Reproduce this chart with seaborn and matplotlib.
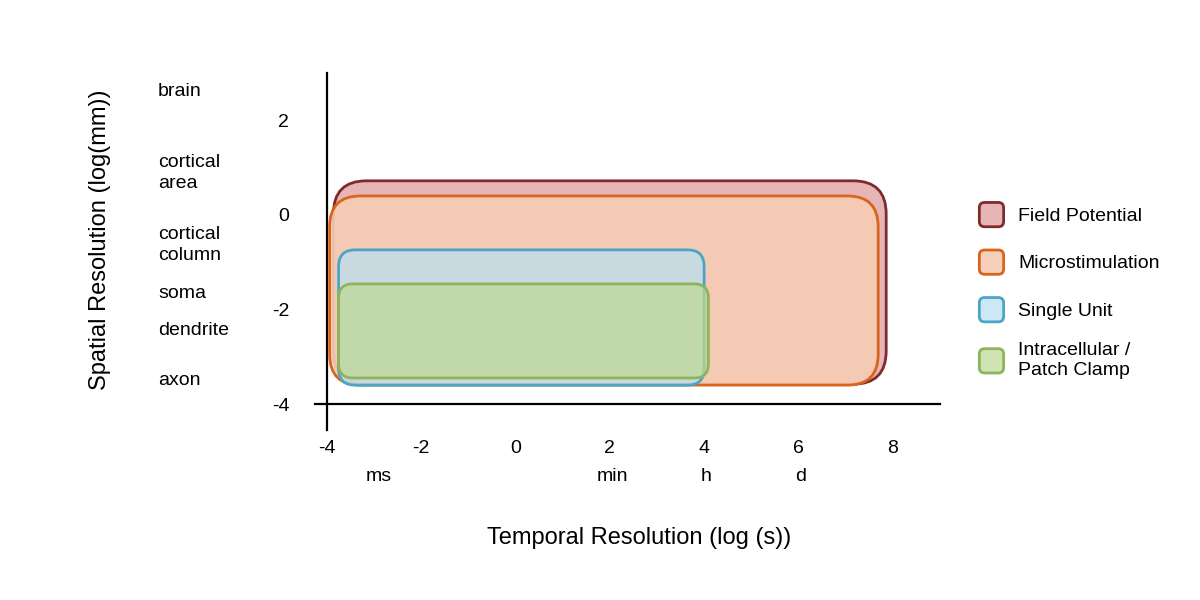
import matplotlib
matplotlib.use("Agg")
import matplotlib.pyplot as plt
import seaborn as sns
from matplotlib.patches import FancyBboxPatch, Patch
from matplotlib.legend_handler import HandlerPatch

# Recording methods: temporal range (log s) and spatial range (log mm)
methods = ["Field Potential", "Microstimulation", "Single Unit", "Intracellular /\nPatch Clamp"]
t_min = [-3.86, -3.94, -3.75, -3.75]
t_max = [7.86, 7.69, 4.0, 4.09]
s_min = [-3.58, -3.6, -3.6, -3.45]
s_max = [0.72, 0.4, -0.74, -1.46]

x_ticks = [-4, -2, 0, 2, 4, 6, 8]
y_ticks = [-4, -2, 0, 2]

# secondary labels
time_units = ["ms", "min", "h", "d"]
time_pos = [-2.9, 2.05, 4.05, 6.05]
space_units = ["brain", "cortical\narea", "cortical\ncolumn", "soma", "dendrite", "axon"]
space_pos = [2.6, 0.89, -0.63, -1.67, -2.45, -3.5]

edge_cols = ["#7f2a2b", "#d8651b", "#4ca5c5", "#8db45a"]
face_cols = [(0.90, 0.68, 0.69, 0.9), (0.965, 0.80, 0.71, 0.92),
             (0.72, 0.88, 0.94, 0.72), (0.75, 0.85, 0.58, 0.72)]
radius = [0.7, 0.65, 0.35, 0.3]

sns.set_theme(style="white")
plt.rcParams["font.family"] = ["Liberation Sans", "DejaVu Sans"]
plt.rcParams["axes.unicode_minus"] = False
plt.rcParams["text.color"] = "black"

fig = plt.figure(figsize=(12, 6), dpi=100)
ax = fig.add_axes([0.2625, 0.2833, 0.5208, 0.595])

for i, m in enumerate(methods):
    box = FancyBboxPatch((t_min[i], s_min[i]), t_max[i] - t_min[i], s_max[i] - s_min[i],
                         boxstyle=f"round,pad=0,rounding_size={radius[i]}",
                         fc=face_cols[i], ec=edge_cols[i], lw=2, zorder=2 + i)
    ax.add_patch(box)

ax.set_xlim(-4.25, 9.0)
ax.set_ylim(-4.55, 3.0)
ax.spines["left"].set_position(("data", -4))
ax.spines["bottom"].set_position(("data", -4))
sns.despine(ax=ax)
for s in ["left", "bottom"]:
    ax.spines[s].set_linewidth(1.6)
    ax.spines[s].set_color("black")
ax.set_xticks(x_ticks)
ax.set_yticks(y_ticks)
ax.tick_params(axis="both", direction="out", length=7, width=1.4, color="black",
               labelsize=14, labelcolor="black")
ax.tick_params(axis="x", pad=19)
ax.tick_params(axis="y", pad=20)
ax.xaxis.get_major_ticks()[0].tick1line.set_visible(False)

for lab, p in zip(time_units, time_pos):
    ax.text(p, -5.54, lab, ha="center", va="center", fontsize=14, clip_on=False)
for lab, p in zip(space_units, space_pos):
    ax.text(-7.58, p, lab, ha="left", va="center", fontsize=14, clip_on=False, linespacing=1.3)

fig.text(0.533, 0.103, "Temporal Resolution (log (s))", ha="center", va="center", fontsize=17)
fig.text(0.083, 0.6, "Spatial Resolution (log(mm))", ha="center", va="center",
         rotation=90, fontsize=17)


def rounded_handle(legend, orig_handle, xdescent, ydescent, width, height, fontsize):
    # small rounded square, centred in a tall handle box
    s = 1.25 * fontsize
    y0 = -ydescent + (height - s) / 2
    return FancyBboxPatch((-xdescent, y0), s, s,
                          boxstyle=f"round,pad=0,rounding_size={0.22 * s}")


handles = [Patch(fc=face_cols[i], ec=edge_cols[i], lw=2, label=m) for i, m in enumerate(methods)]
leg = fig.legend(handles=handles, loc="center left", bbox_to_anchor=(0.808, 0.518),
                 frameon=False, fontsize=14, handlelength=1.25, handleheight=2.0,
                 handletextpad=0.75, labelspacing=0.9, borderpad=0,
                 handler_map={Patch: HandlerPatch(patch_func=rounded_handle)})

fig.savefig("out.png", dpi=100)
